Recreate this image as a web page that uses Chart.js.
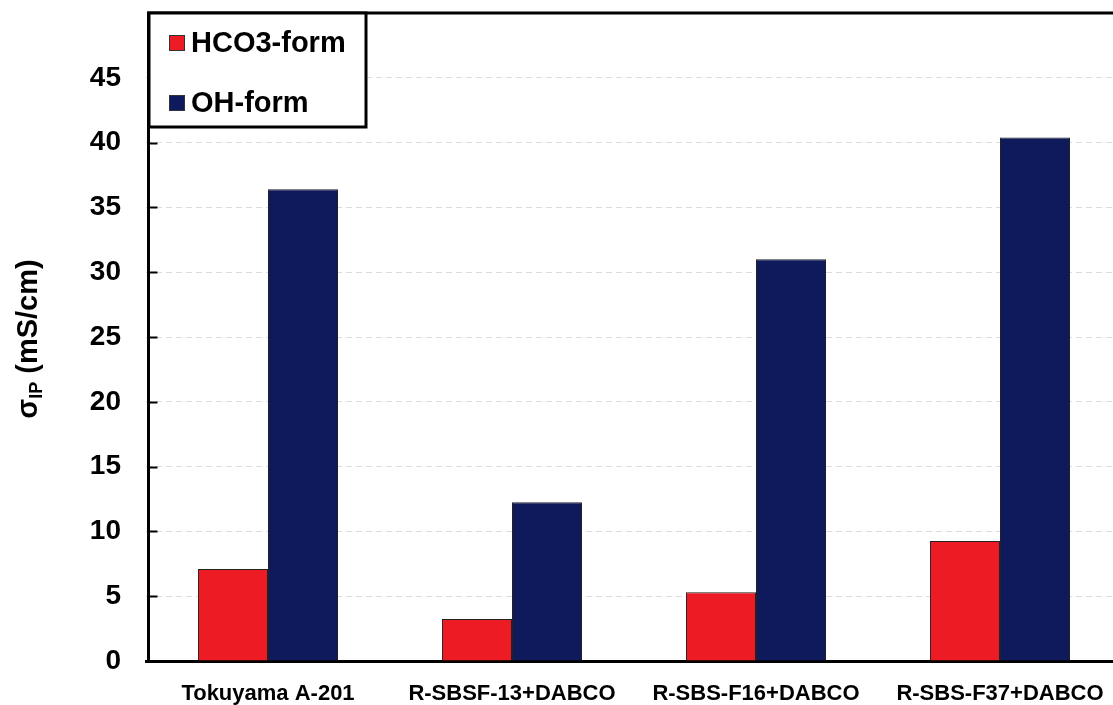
<!DOCTYPE html>
<html>
<head>
<meta charset="utf-8">
<script src="https://cdn.jsdelivr.net/npm/chart.js@4/dist/chart.umd.min.js"></script>
<style>
  html, body { margin: 0; padding: 0; background: #fff; overflow: hidden; }
  #wrap { width: 1113px; height: 705px; overflow: hidden; }
  canvas { display: block; }
</style>
</head>
<body>
<div id="wrap"><canvas id="c" width="1122" height="705"></canvas></div>
<script>
// Membranes compared
const categories = ['Tokuyama A-201', 'R-SBSF-13+DABCO', 'R-SBS-F16+DABCO', 'R-SBS-F37+DABCO'];
// In-plane conductivity, mS/cm
const hco3Form = [7.1, 3.25, 5.3, 9.25];
const ohForm = [36.4, 12.25, 31.0, 40.4];
const seriesNames = ['HCO3-form', 'OH-form'];
const yTicks = [0, 5, 10, 15, 20, 25, 30, 35, 40, 45];

const RED = '#ED1C24';
const NAVY = '#0F1A5C';
const FONT = 'Arial, "Liberation Sans", sans-serif';

// Left axis line, frame line along the top and inward tick marks on the y axis
const framePlugin = {
  id: 'frame',
  afterDraw(chart) {
    const { ctx, chartArea: a, scales: { y } } = chart;
    const axisX = a.left + 2.5;
    ctx.save();
    ctx.strokeStyle = '#000';
    ctx.lineWidth = 3;
    ctx.beginPath();
    ctx.moveTo(axisX, a.bottom + 1.5);
    ctx.lineTo(axisX, a.top);
    ctx.stroke();
    ctx.beginPath();
    ctx.moveTo(axisX - 1.5, a.top);
    ctx.lineTo(a.right, a.top);
    ctx.stroke();
    ctx.lineWidth = 2;
    yTicks.forEach(v => {
      if (v === 0) return;
      const py = Math.round(y.getPixelForValue(v)) + 0.5;
      ctx.beginPath();
      ctx.moveTo(axisX, py);
      ctx.lineTo(axisX + 9, py);
      ctx.stroke();
    });
    ctx.restore();
  }
};

// Boxed legend in the upper-left corner of the plot
const boxLegendPlugin = {
  id: 'boxLegend',
  afterDraw(chart) {
    const { ctx } = chart;
    const x0 = 149, y0 = 13, w = 217, h = 114;
    ctx.save();
    ctx.fillStyle = '#fff';
    ctx.fillRect(x0, y0, w, h);
    ctx.strokeStyle = '#000';
    ctx.lineWidth = 3;
    ctx.strokeRect(x0, y0, w, h);
    ctx.font = 'bold 29px ' + FONT;
    ctx.textBaseline = 'middle';
    ctx.textAlign = 'left';
    const rows = [43, 103];
    chart.data.datasets.forEach((ds, i) => {
      const cy = rows[i];
      ctx.fillStyle = ds.backgroundColor;
      ctx.fillRect(169.5, cy - 7.5, 15, 15);
      ctx.lineWidth = 1;
      ctx.strokeStyle = '#333';
      ctx.strokeRect(169.5, cy - 7.5, 15, 15);
      ctx.fillStyle = '#000';
      ctx.fillText(ds.label, 191, cy + 1);
    });
    ctx.restore();
  }
};

// Rotated y-axis title with subscript
const yTitlePlugin = {
  id: 'yTitle',
  afterDraw(chart) {
    const { ctx } = chart;
    ctx.save();
    ctx.translate(29, 339);
    ctx.rotate(-Math.PI / 2);
    ctx.fillStyle = '#000';
    ctx.textBaseline = 'middle';
    ctx.textAlign = 'left';
    const big = 'bold 29px ' + FONT;
    const small = 'bold 18px ' + FONT;
    ctx.font = big;
    const wSig = ctx.measureText('σ').width;
    const rest = ' (mS/cm)';
    const wRest = ctx.measureText(rest).width;
    ctx.font = small;
    const wSub = ctx.measureText('IP').width;
    const total = wSig + wSub + wRest;
    let x = -total / 2;
    ctx.font = big;
    ctx.fillText('σ', x, 0);
    x += wSig;
    ctx.font = small;
    ctx.fillText('IP', x, 8);
    x += wSub;
    ctx.font = big;
    ctx.fillText(rest, x, 0);
    ctx.restore();
  }
};

new Chart(document.getElementById('c'), {
  type: 'bar',
  data: {
    labels: categories,
    datasets: [
      { label: seriesNames[0], data: hco3Form, backgroundColor: RED, borderColor: '#222', borderWidth: 1 },
      { label: seriesNames[1], data: ohForm, backgroundColor: NAVY, borderColor: '#222', borderWidth: 1 }
    ]
  },
  options: {
    responsive: false,
    devicePixelRatio: 1,
    animation: false,
    layout: { padding: { top: 13, right: 0, left: 0, bottom: 0 } },
    datasets: { bar: { categoryPercentage: 0.574, barPercentage: 1 } },
    plugins: { legend: { display: false }, tooltip: { enabled: false } },
    scales: {
      x: {
        grid: { display: false, drawTicks: false },
        border: { display: true, color: '#000', width: 3 },
        ticks: { color: '#000', font: { family: FONT, size: 22, weight: 'bold' }, padding: 20, maxRotation: 0, autoSkip: false },
        afterFit(scale) { scale.height = 44; scale.paddingLeft = 0; scale.paddingRight = 0; }
      },
      y: {
        min: 0,
        max: 50,
        afterBuildTicks(scale) {
          scale.ticks = yTicks.map(v => ({ value: v }));
        },
        grid: { color: '#dddddd', lineWidth: 1, drawTicks: false },
        border: { display: false, dash: [6, 4] },
        ticks: {
          color: '#000',
          font: { family: FONT, size: 28, weight: 'bold' },
          padding: 25
        },
        afterFit(scale) { scale.width = 146; scale.paddingTop = 0; scale.paddingBottom = 0; }
      }
    }
  },
  plugins: [framePlugin, boxLegendPlugin, yTitlePlugin]
});
</script>
</body>
</html>
